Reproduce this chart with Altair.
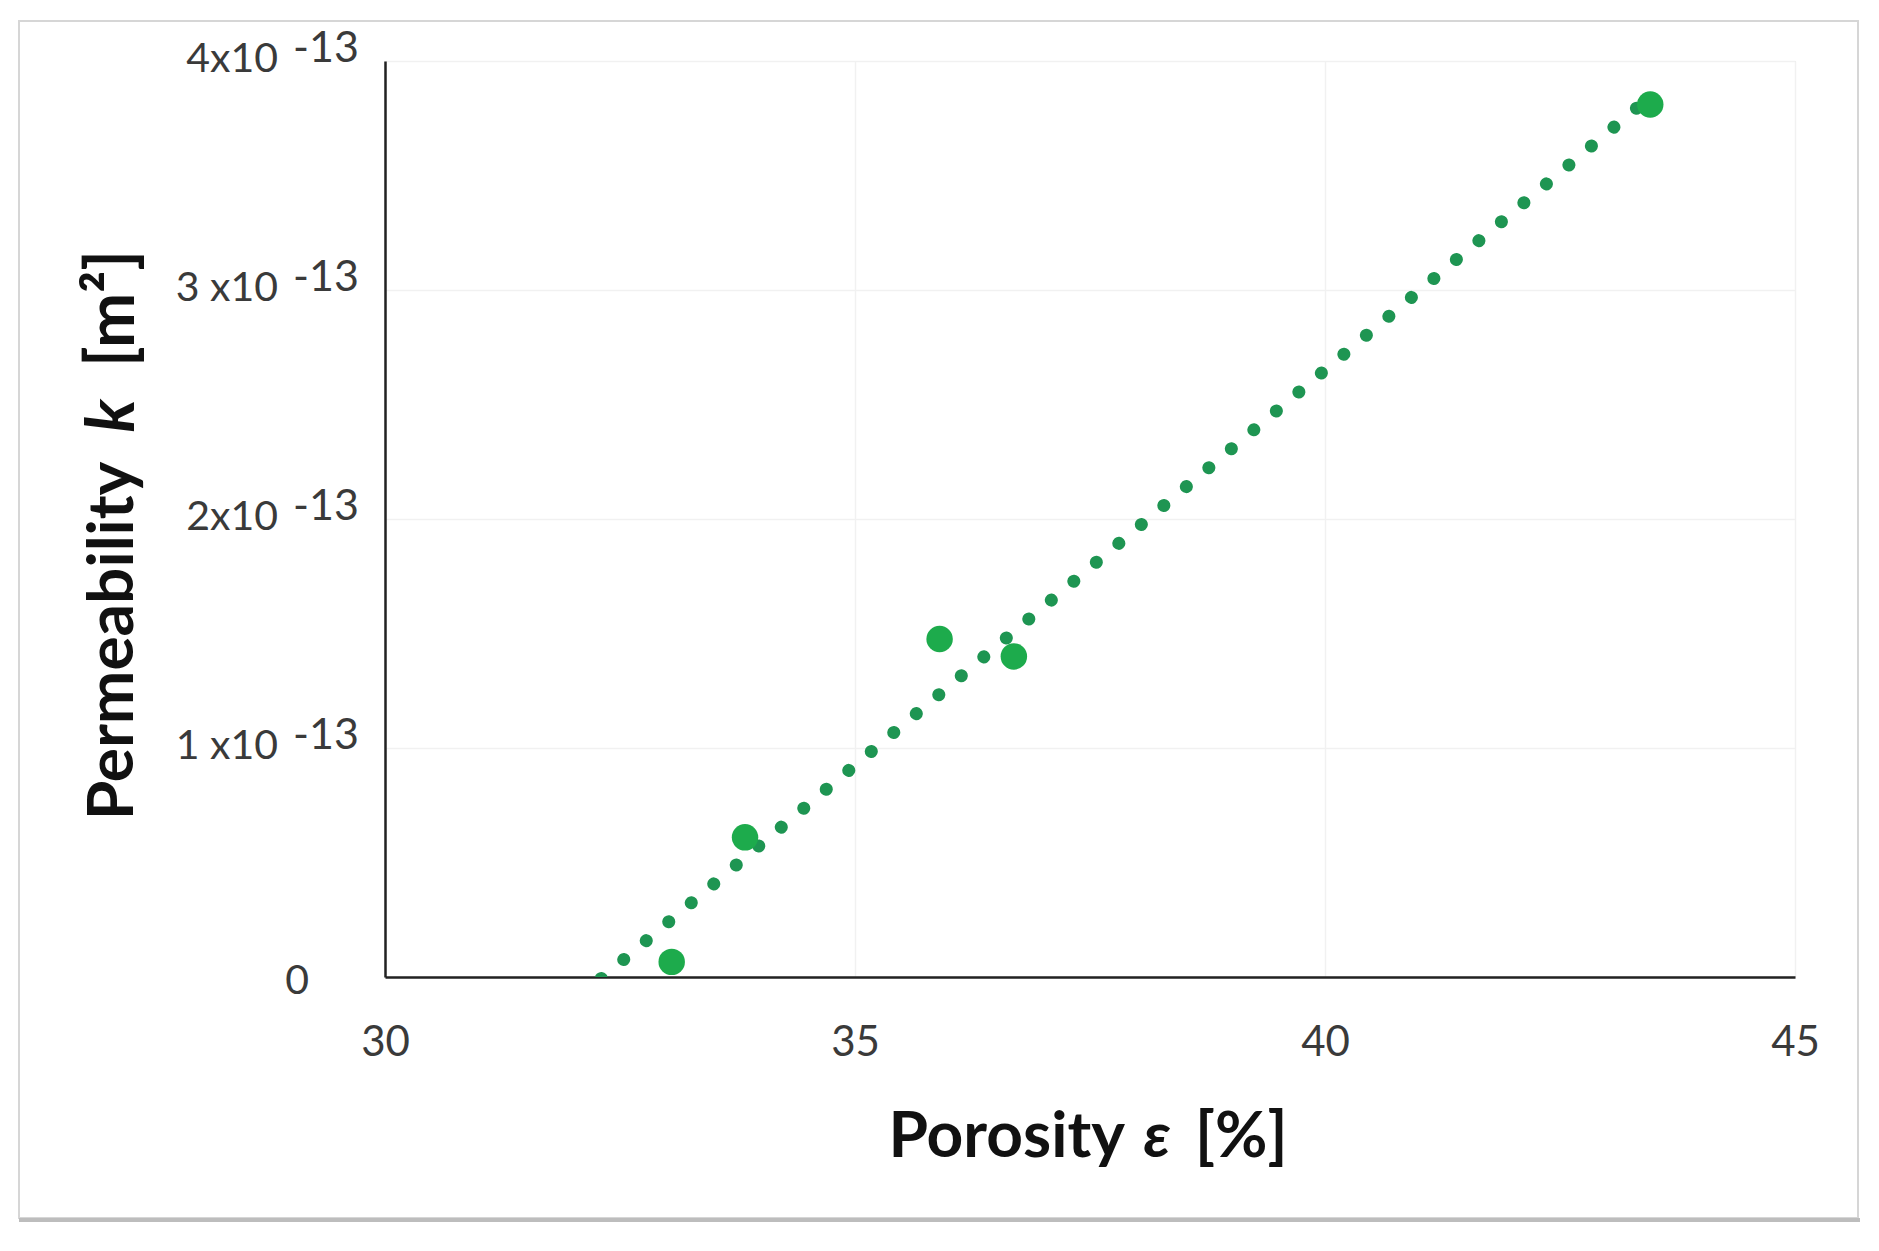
import altair as alt
import pandas as pd

# ---- data ----
porosity = [33.05, 33.83, 35.90, 36.69, 43.46]
permeability = [0.066e-13, 0.61e-13, 1.476e-13, 1.40e-13, 3.81e-13]
x_ticks = [30, 35, 40, 45]
y_ticks = [0, 1e-13, 2e-13, 3e-13, 4e-13]
y_mantissa = ["0", "1 x10", "2x10", "3 x10", "4x10"]
y_exponent = ["", "-13", "-13", "-13", "-13"]
x_title_parts = ["Porosity", "\u03b5", "[%]"]
y_title_parts = ["Permeability", "k", "[m\u00b2]"]
trend_extent = [32.30, 43.46]

MARKER = "#1DAB4C"
TREND = "#1E9552"
LABEL = "#3a3a3a"
FONT = "Lato"

W, H = 1410, 916

df = pd.DataFrame({"x": porosity, "y": permeability})
ticks_df = pd.DataFrame({"v": y_ticks, "m": y_mantissa, "e": y_exponent})
one = pd.DataFrame({"a": [0]})

xs = alt.Scale(domain=[30, 45], nice=False, zero=False)
ys = alt.Scale(domain=[0, 4e-13], nice=False)

x_axis = alt.Axis(values=x_ticks, format="d", title=None, grid=True, gridColor="#f1f1f1",
                  gridWidth=1.5, ticks=False, domainColor="#222222", domainWidth=2.5,
                  labelFont=FONT, labelFontSize=42, labelColor=LABEL, labelPadding=45,
                  labelFlush=False)
y_axis = alt.Axis(values=y_ticks, title=None, grid=True, gridColor="#f1f1f1", gridWidth=1.5,
                  ticks=False, labels=False, domainColor="#222222", domainWidth=2.5)

frame = alt.Chart(one).mark_rect(fillOpacity=0, stroke="#d6d6d6", strokeWidth=2).encode(
    x=alt.value(-366), x2=alt.value(1473), y=alt.value(-40), y2=alt.value(1157))
frame_bottom = alt.Chart(one).mark_rule(color="#bdbdbd", strokeWidth=4).encode(
    x=alt.value(-366), x2=alt.value(1475), y=alt.value(1159))

trend = alt.Chart(df).transform_regression("x", "y", extent=trend_extent).mark_line(
    clip=True, color=TREND, strokeWidth=13, strokeDash=[0.1, 29.3], strokeCap="round"
).encode(x=alt.X("x:Q", scale=xs, axis=x_axis), y=alt.Y("y:Q", scale=ys, axis=y_axis))

points = alt.Chart(df).mark_circle(size=700, opacity=1, color=MARKER).encode(
    x=alt.X("x:Q", scale=xs, title=None), y=alt.Y("y:Q", scale=ys, title=None))

mant = alt.Chart(ticks_df).transform_filter("datum.v > 0").mark_text(
    align="right", baseline="middle", font=FONT, fontSize=41, color=LABEL, dy=-1
).encode(x=alt.value(-107), y=alt.Y("v:Q", scale=ys, title=None), text="m:N")

expo = alt.Chart(ticks_df).transform_filter("datum.v > 0").mark_text(
    align="left", baseline="middle", font=FONT, fontSize=43, color=LABEL, dy=-12
).encode(x=alt.value(-92), y=alt.Y("v:Q", scale=ys, title=None), text="e:N")

zero = alt.Chart(ticks_df).transform_filter("datum.v == 0").mark_text(
    align="right", baseline="middle", font=FONT, fontSize=41, color=LABEL, dy=5
).encode(x=alt.value(-76), y=alt.Y("v:Q", scale=ys, title=None), text="m:N")

def txt(s, x, y, align, italic=False, angle=0, size=64, baseline="alphabetic"):
    kw = dict(text=s, align=align, baseline=baseline, font=FONT, fontSize=size,
              fontWeight="bold", color="#111111")
    if italic:
        kw["fontStyle"] = "italic"
    if angle:
        kw["angle"] = angle
    return alt.Chart(one).mark_text(**kw).encode(x=alt.value(x), y=alt.value(y))

xt1 = txt(x_title_parts[0], 740, 1096, "right")
xt2 = txt(x_title_parts[1], 772, 1096, "center", italic=True)
xt3 = txt(x_title_parts[2], 810, 1096, "left")

yt1 = txt(y_title_parts[0], -271, 580, "center", angle=270, size=64, baseline="middle")
yt2 = txt(y_title_parts[1], -271, 355, "center", italic=True, angle=270, size=66, baseline="middle")
yt3 = txt(y_title_parts[2], -271, 306, "left", angle=270, size=66, baseline="middle")

chart = alt.layer(
    trend, points, mant, expo, zero, xt1, xt2, xt3, yt1, yt2, yt3, frame, frame_bottom
).properties(
    width=W, height=H,
    autosize=alt.AutoSizeParams(type="none"),
    padding={"left": 377, "top": 53, "right": 76, "bottom": 250},
).configure_view(stroke=None).configure(background="white")

chart.save("out.html", embed_options={"renderer": "svg", "actions": False})
